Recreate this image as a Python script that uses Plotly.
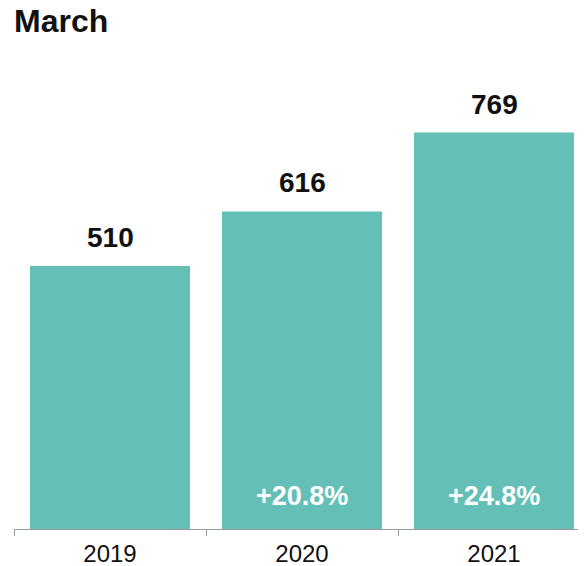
import plotly.graph_objects as go

years = ["2019", "2020", "2021"]
values = [510, 616, 769]
changes = ["", "+20.8%", "+24.8%"]

BAR = "#64bfb6"
FONT = "Liberation Sans, Arial, Helvetica, sans-serif"

# the page body adds an 8px offset; layout values below compensate for it
fig = go.Figure()
fig.add_trace(go.Bar(x=years, y=values, marker=dict(color=BAR, line=dict(width=0)),
                     width=0.833, hoverinfo="skip"))

annotations = []
for i, v in enumerate(values):
    annotations.append(dict(x=i, y=v, xref="x", yref="y", text=f"<b>{v}</b>",
                            showarrow=False, yanchor="bottom", yshift=11,
                            font=dict(family=FONT, size=28, color="#111")))
for i, c in enumerate(changes):
    if c:
        annotations.append(dict(x=i, y=0, xref="x", yref="y", text=f"<b>{c}</b>",
                                showarrow=False, yanchor="middle", yshift=33,
                                font=dict(family=FONT, size=27, color="white")))

fig.update_layout(
    width=586, height=566,
    margin=dict(l=6, r=4, t=52, b=45),
    paper_bgcolor="white", plot_bgcolor="white",
    showlegend=False,
    title=dict(text="<b>March</b>", x=6/586, xanchor="left", xref="container",
               y=1 - 13/566, yanchor="middle", yref="container",
               font=dict(family=FONT, size=32, color="#111")),
    xaxis=dict(type="category", range=[-0.5, 2.5], showline=True,
               linecolor="#999", linewidth=1, ticks="outside", tickson="boundaries",
               ticklen=6, tickcolor="#999", showgrid=False, ticklabelstandoff=3,
               tickfont=dict(family=FONT, size=24, color="#111")),
    yaxis=dict(range=[0, 469/0.5156], visible=False, showgrid=False, zeroline=False),
    annotations=annotations,
)

fig.write_html("out.html")
